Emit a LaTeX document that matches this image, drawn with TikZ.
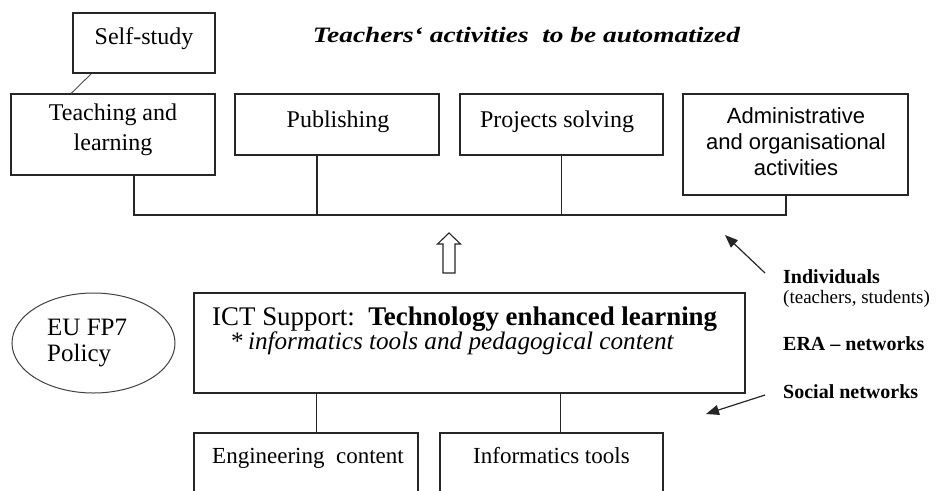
\documentclass[tikz,border=0pt]{standalone}
\usepackage{fontspec}
\setmainfont{Liberation Serif}
\newfontfamily\arialfont{Liberation Sans}
\usepackage{graphicx}
\usetikzlibrary{arrows.meta,calc,shapes.geometric}

\tikzset{
  frame/.style={draw=black!85, line width=1.4pt, rectangle, inner sep=0pt},
  link/.style={draw=black!85, line width=1.4pt},
  thinlink/.style={draw=black!70, line width=0.9pt},
  txt/.style={inner sep=0pt, anchor=base, text=black},
  pointer/.style={draw=black!85, line width=1.2pt, -{Triangle[length=13pt,width=10pt]}},
  boxfont/.style={font=\fontsize{24}{30}\selectfont},
}

\begin{document}
\begin{tikzpicture}[x=1pt,y=-1pt]
\useasboundingbox (0,0) rectangle (941,490);

% title
\node[txt] (title) at (526.5,42)
  {\resizebox{427pt}{\height}{\fontsize{22}{26}\selectfont\bfseries\itshape Teachers‘ activities\ \ to be automatized}};

% activity boxes
\node[frame, minimum width=142pt, minimum height=60pt] (self)  at (144,43) {};
\node[frame, minimum width=204pt, minimum height=81pt] (teach) at (113,134.5) {};
\node[frame, minimum width=204pt, minimum height=61pt] (pub)   at (337,124.5) {};
\node[frame, minimum width=203pt, minimum height=61pt] (proj)  at (561.5,124.5) {};
\node[frame, minimum width=225pt, minimum height=101pt] (admin) at (795.5,144.5) {};

% multi-line texts are anchored on their last line
\node[txt, boxfont] (tself) at (144,44) {Self-study};
\node[txt, boxfont, align=center] (tteach) at (113,150) {Teaching and\\learning};
\node[txt, boxfont] (tpub) at (338,127) {Publishing};
\node[txt, boxfont] (tproj) at (557,127) {Projects solving};
\node[txt, align=center, font=\arialfont\fontsize{22}{26}\selectfont] (tadmin) at (796,175)
  {Administrative\\and organisational\\activities};

% self-study hangs off teaching and learning
\draw[thinlink] ($(self.south west)+(19,0)$) -- ($(teach.north west)+(61,0)$);

% collecting bus
\coordinate (busL) at (134,215);
\coordinate (busR) at (786,215);
\draw[link] (teach.south -| busL) -- (busL) -- (busR) -- (admin.south -| busR);
\draw[link] ($(pub.south)+(-20,0)$) |- (busL);
\draw[link] (proj.south) -- (proj.south |- busL);

% hollow upward arrow
\draw[draw=black!85, line width=1.1pt, line join=miter, fill=white]
  (443,273) -- (443,244) -- (437.5,244) -- (449,233) -- (460.5,244) -- (455,244) -- (455,273) -- cycle;

% policy ellipse
\node[draw=black!75, line width=1pt, ellipse, minimum width=163pt, minimum height=100pt, inner sep=0pt]
  (eu) at (93.5,343) {};
\node[txt, anchor=base west, align=left, font=\fontsize{25}{26}\selectfont] (teu) at (47,361)
  {EU FP7\\Policy};

% ICT support
\node[frame, minimum width=551pt, minimum height=100pt] (ict) at (469.5,343) {};
\node[txt, anchor=base west, font=\fontsize{26.9}{30}\selectfont] (tict) at (212,325)
  {ICT Support:\ \ \textbf{Technology enhanced learning}};
\node[txt, anchor=base west, font=\fontsize{25.2}{30}\selectfont] (tict2) at (231,349)
  {*\,\textit{informatics tools and pedagogical content}};

% lower boxes (run past the bottom edge)
\node[frame, minimum width=224pt, minimum height=70pt] (eng)  at (306,468) {};
\node[frame, minimum width=223pt, minimum height=70pt] (info) at (551.5,468) {};
\node[txt, anchor=base west, font=\fontsize{23}{28}\selectfont] (teng) at (212,463) {Engineering\ \ content};
\node[txt, anchor=base west, font=\fontsize{23}{28}\selectfont] (tinfo) at (473,463) {Informatics tools};

\draw[link] ($(ict.south west)+(123,0)$) -- ($(eng.north west)+(123,0)$);
\draw[link] ($(ict.south west)+(367,0)$) -- ($(info.north west)+(121,0)$);

% actors on the right
\node[txt, anchor=base west, font=\fontsize{20}{24}\selectfont\bfseries] (tind) at (783,283) {Individuals};
\node[txt, anchor=base west, font=\fontsize{19}{24}\selectfont] (tpar) at (783,303) {(teachers, students)};
\node[txt, anchor=base west, font=\fontsize{20}{24}\selectfont\bfseries] (tera) at (783,350) {ERA – networks};
\node[txt, anchor=base west, font=\fontsize{20}{24}\selectfont\bfseries] (tsoc) at (783,398) {Social networks};

\coordinate (indFrom) at (765,273);
\coordinate (indTo) at (725,235);
\coordinate (socFrom) at (765,395);
\coordinate (socTo) at (706,414);
\draw[pointer] (indFrom) -- (indTo);
\draw[pointer] (socFrom) -- (socTo);
\end{tikzpicture}
\end{document}
